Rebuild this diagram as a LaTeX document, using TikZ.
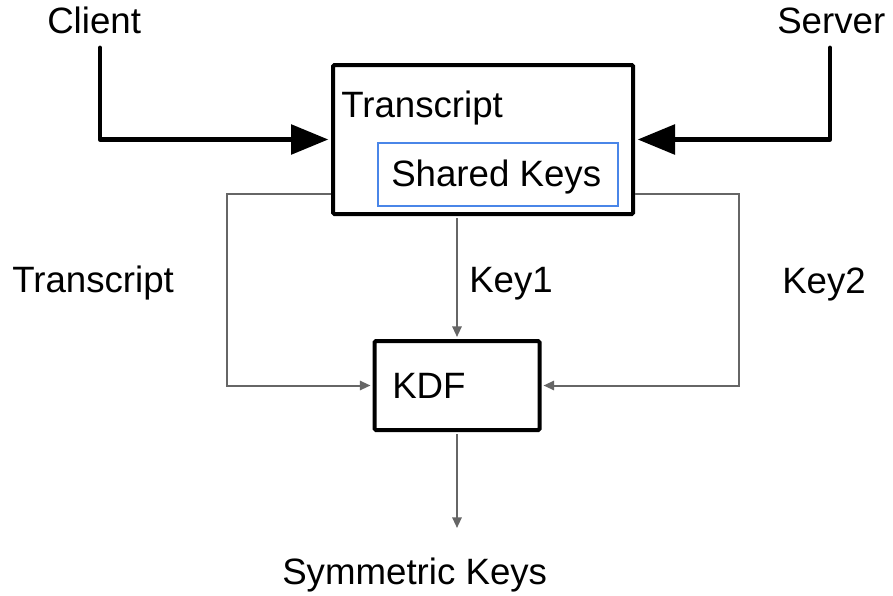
\documentclass[tikz,border=0pt]{standalone}
\usepackage{fontspec}
\setmainfont{Liberation Sans}
\usetikzlibrary{arrows.meta}
\definecolor{linegray}{RGB}{102,102,102}
\definecolor{keyblue}{RGB}{74,134,232}
\begin{document}
\begin{tikzpicture}[x=0.75pt,y=-0.75pt,
  every node/.style={font=\fontsize{27.5}{33}\selectfont},
  block/.style={draw=black,line width=3pt,rounded corners=1pt,inner sep=0pt},
  keybox/.style={draw=keyblue,line width=1.2pt,inner sep=0pt},
  bigarrow/.style={line width=3.6pt,-{Triangle[length=28pt,width=22pt]}},
  thinarrow/.style={draw=linegray,line width=1.5pt,-{Triangle[length=8pt,width=7pt]}},
  label/.style={inner sep=0pt,anchor=base west}]
  \useasboundingbox (0,0) rectangle (893,596);
  \fill[white] (0,0) rectangle (893,596);

  % main boxes
  \node[block,minimum width=225pt,minimum height=111.75pt] (tb) at (483,139.5) {};
  \node[label] (tbtext) at (341,117) {Transcript};
  \node[keybox,minimum width=180pt,minimum height=47.25pt] (sk) at (498,174.5) {};
  \node[label] (sktext) at (391,186) {Shared Keys};
  \node[block,minimum width=123.75pt,minimum height=66.75pt] (kdf) at (457,385.5) {};
  \node[label] (kdftext) at (392,398) {KDF};

  % outer labels
  \node[label] (client) at (47,33) {Client};
  \node[label] (server) at (777,33) {Server};
  \node[label] (ltrans) at (12,292) {Transcript};
  \node[label] (lkey1) at (469,292) {Key1};
  \node[label] (lkey2) at (782,293) {Key2};
  \node[label] (sym) at (282,584) {Symmetric Keys};

  % helper points
  \coordinate (cstart) at (100,48);
  \coordinate (sstart) at (830,48);
  \coordinate (tl) at (227,194);
  \coordinate (tr) at (739,194);
  \coordinate (outend) at (457,528);

  % thick inputs
  \draw[bigarrow,line cap=round,line join=round,shorten >=2pt] (cstart) |- (tb.west);
  \draw[bigarrow,line cap=round,line join=round,shorten >=2pt] (sstart) |- (tb.east);

  % thin connectors
  \draw[thinarrow,shorten >=1.5pt] (tb.west |- tl) -- (tl) |- (kdf.west);
  \draw[thinarrow,shorten >=1.5pt] (tb.east |- tr) -- (tr) |- (kdf.east);
  \draw[thinarrow,shorten <=1.5pt,shorten >=1.5pt] (kdf.north |- tb.south) -- (kdf.north);
  \draw[thinarrow,shorten <=1.5pt] (kdf.south) -- (outend);
\end{tikzpicture}
\end{document}
